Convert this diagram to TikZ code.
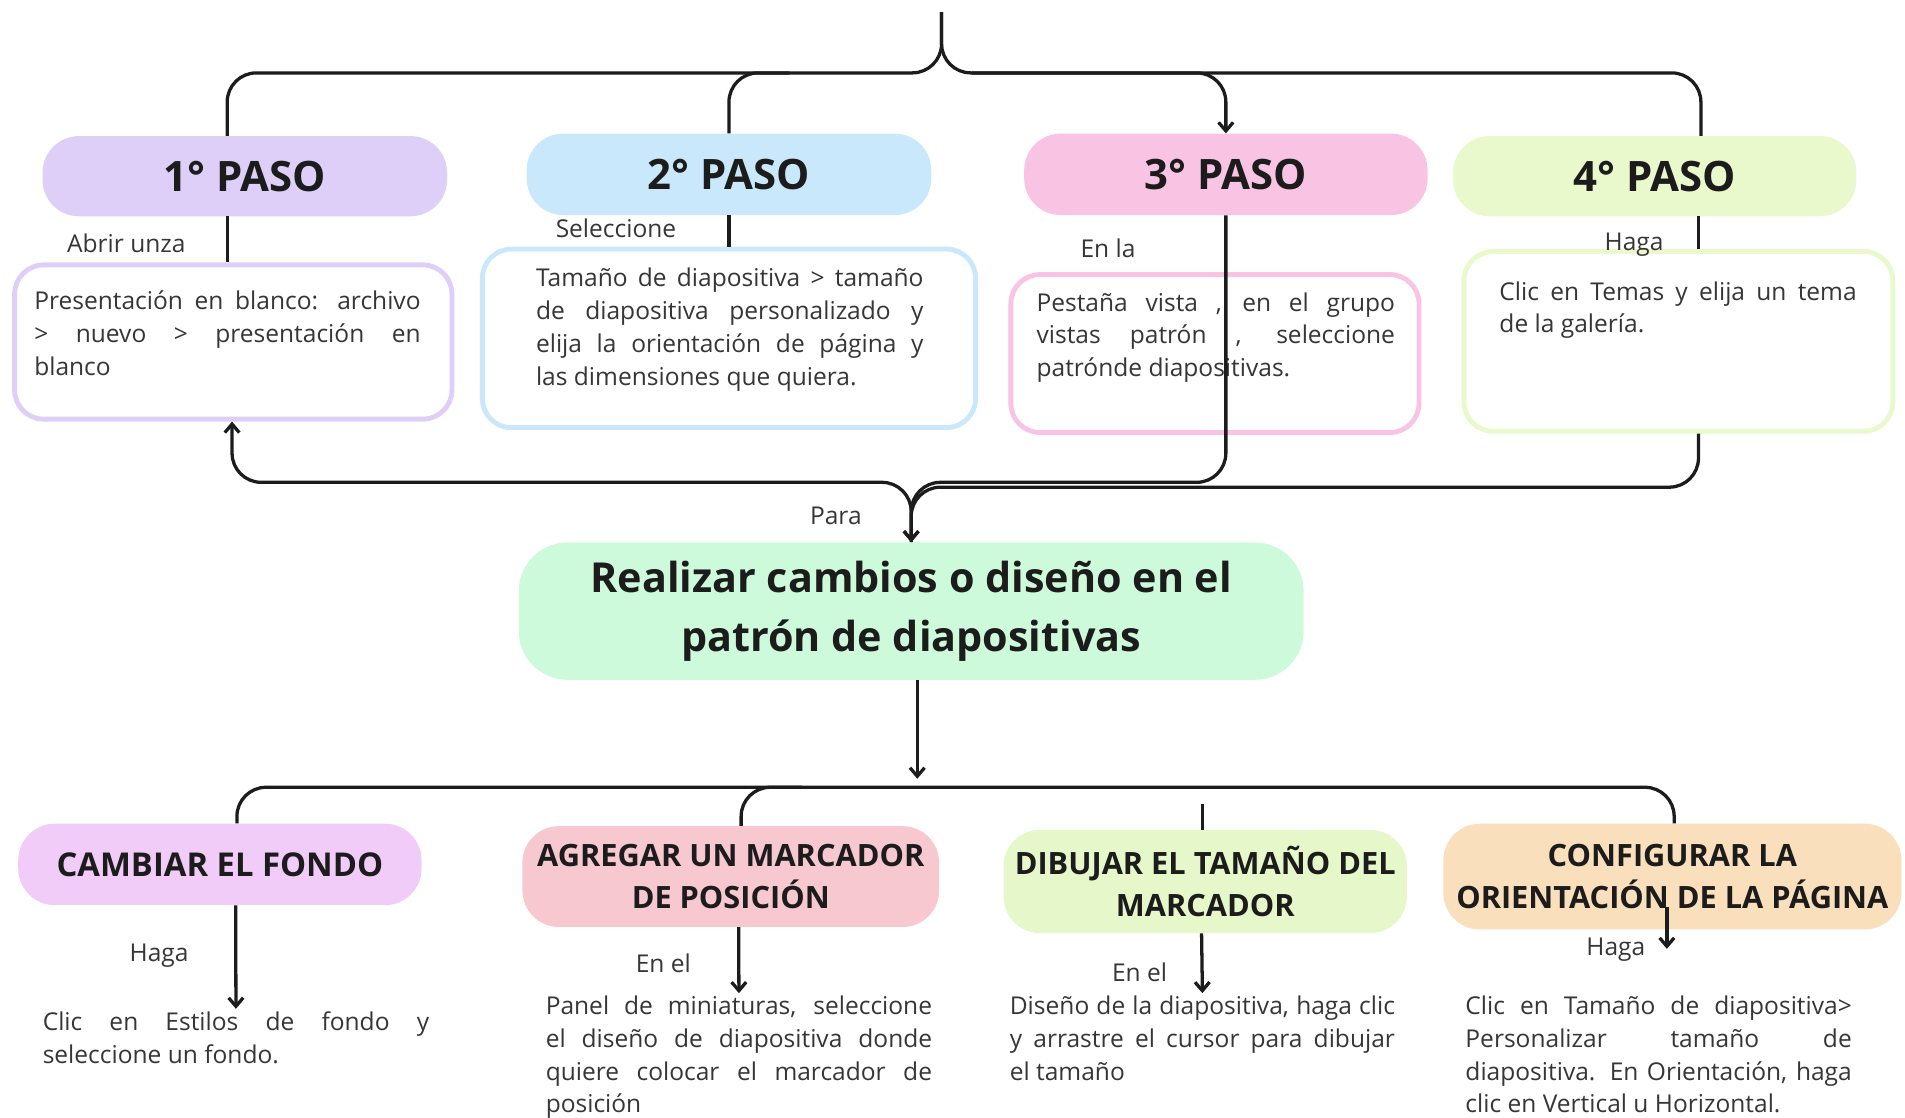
\documentclass[tikz,border=0pt]{standalone}
\usepackage{fontspec}
\setmainfont{Open Sans}
\usetikzlibrary{arrows.meta}
\definecolor{pA}{HTML}{DDCFF8}
\definecolor{pB}{HTML}{C9E8FB}
\definecolor{pC}{HTML}{F9C3E3}
\definecolor{pD}{HTML}{E9F9CC}
\definecolor{mn}{HTML}{CDFADB}
\definecolor{qA}{HTML}{F2CCF8}
\definecolor{qB}{HTML}{F8C8D1}
\definecolor{qC}{HTML}{E6F8CA}
\definecolor{qD}{HTML}{FADFBC}
\definecolor{bodytext}{HTML}{363636}
\definecolor{ink}{HTML}{1C1C1C}
\newcommand{\jl}[1]{\makebox[\linewidth][s]{#1}\par}
\newcommand{\bodyfont}{\fontsize{20.2}{27}\selectfont\parindent=0pt\relax}
\begin{document}
\begin{tikzpicture}[x=1pt,y=-1pt,
  conn/.style={line width=2.7pt, draw=ink, rounded corners=24pt},
  arr/.style={-{Straight Barb[length=7pt,width=12pt]}},
  pill/.style={rounded corners=30pt, inner sep=0pt, text=ink, align=center},
  paso/.style={pill, minimum height=66pt, minimum width=333pt, font=\fontsize{34.5}{40}\selectfont\bfseries},
  accion/.style={pill, font=\fontsize{25.3}{34}\selectfont\bfseries},
  desc/.style={rounded corners=24pt, line width=4pt, fill=white, inner sep=0pt},
  lbl/.style={inner sep=0pt, text=bodytext, font=\fontsize{20.2}{24}\selectfont},
  txt/.style={inner sep=0pt, anchor=base west, text=bodytext, font=\bodyfont}]
\useasboundingbox (0,0) rectangle (1568,920);

% ---- step headers
\node[paso, fill=pA] (s1) at (201.5,145) {1° PASO};
\node[paso, fill=pB, minimum height=67pt] (s2) at (600,143.5) {2° PASO};
\node[paso, fill=pC, minimum height=67pt, minimum width=332pt] (s3) at (1009,143.5) {3° PASO};
\node[paso, fill=pD, minimum width=332pt] (s4) at (1362,145) {4° PASO};

% ---- description boxes
\node[desc, draw=pA, minimum width=360pt, minimum height=127pt] (d1) at (192,281.5) {};
\node[desc, draw=pB, minimum width=406pt, minimum height=147pt] (d2) at (600,278.5) {};
\node[desc, draw=pC, minimum width=336pt, minimum height=130pt] (d3) at (1000,291) {};
\node[desc, draw=pD, minimum width=353pt, minimum height=148pt] (d4) at (1381.5,281) {};

\node[txt] (t1) at (28,255) {\parbox[t]{318pt}{\bodyfont
  \jl{Presentación en blanco: archivo}\jl{> nuevo > presentación en}blanco}};
\node[txt] (t2) at (441,236) {\parbox[t]{319pt}{\bodyfont
  \jl{Tamaño de diapositiva > tamaño}\jl{de diapositiva personalizado y}\jl{elija la orientación de página y}las dimensiones que quiera.}};
\node[txt] (t3) at (853,256) {\parbox[t]{295pt}{\bodyfont
  \jl{Pestaña vista , en el grupo}\jl{vistas patrón , seleccione}patrónde diapositivas.}};
\node[txt] (t4) at (1234,247) {\parbox[t]{294pt}{\bodyfont
  \jl{Clic en Temas y elija un tema}de la galería.}};

% ---- labels (upper)
\node[lbl] (l1) at (104,200) {Abrir unza};
\node[lbl] (l2) at (507,188) {Seleccione};
\node[lbl] (l3) at (912,204) {En la};
\node[lbl] (l4) at (1345,201) {Haga};
\node[lbl] (l5) at (688,425) {Para};

% ---- main node
\node[pill, fill=mn, rounded corners=40pt, minimum width=646pt, minimum height=113pt,
  font=\fontsize{34}{48}\selectfont\bfseries] (m) at (750,503)
  {Realizar cambios o diseño en el\\patrón de diapositivas};

% ---- lower action boxes
\node[accion, fill=qA, minimum width=332pt, minimum height=67pt, font=\fontsize{27}{34}\selectfont\bfseries] (b1) at (181,711.5) {CAMBIAR EL FONDO};
\node[accion, fill=qB, minimum width=343pt, minimum height=83pt] (b2) at (601.5,721.5) {AGREGAR UN MARCADOR\\DE POSICIÓN};
\node[accion, fill=qC, minimum width=332pt, minimum height=85pt] (b3) at (992,725.5) {DIBUJAR EL TAMAÑO DEL\\MARCADOR};
\node[accion, fill=qD, minimum width=377pt, minimum height=87pt] (b4) at (1376.5,721.5) {CONFIGURAR LA\\ORIENTACIÓN DE LA PÁGINA};

% ---- lower texts
\node[txt] (e1) at (35,848) {\parbox[t]{318pt}{\bodyfont
  \jl{Clic en Estilos de fondo y}seleccione un fondo.}};
\node[txt] (e2) at (449,835) {\parbox[t]{318pt}{\bodyfont
  \jl{Panel de miniaturas, seleccione}\jl{el diseño de diapositiva donde}\jl{quiere colocar el marcador de}posición}};
\node[txt] (e3) at (831,835) {\parbox[t]{317pt}{\bodyfont
  \jl{Diseño de la diapositiva, haga clic}\jl{y arrastre el cursor para dibujar}el tamaño}};
\node[txt] (e4) at (1206,835) {\parbox[t]{318pt}{\bodyfont
  \jl{Clic en Tamaño de diapositiva>}\jl{Personalizar tamaño de}\jl{diapositiva. En Orientación, haga}clic en Vertical u Horizontal.}};

% ---- labels (lower)
\node[lbl] (l6) at (131,787) {Haga};
\node[lbl] (l7) at (546,793) {En el};
\node[lbl] (l8) at (938,800) {En el};
\node[lbl] (l9) at (1330,782) {Haga};

% ---- upper connectors
\coordinate (top) at (775,10);
\draw[conn] (top) -- (775,60) -- (187,60) -- ([xshift=-14.5pt]s1.north);
\draw[conn] (top) -- (775,60) -- (1400,60) -- ([xshift=38pt]s4.north);
\draw[conn] (650,60) -- (600,60) -- (s2.north);
\draw[conn,arr] (800,60) -- (1009,60) -- (s3.north);
\draw[conn] ([xshift=-14.5pt]s1.south) -- ([xshift=-5pt]d1.north);
\draw[conn] (s2.south) -- (d2.north);
\draw[conn] ([xshift=36pt]s4.south) -- ([xshift=16.5pt]d4.north);
\draw[conn,arr] (s3.south) -- (1009,397) -- (750,397) -- (m.north);
\draw[conn,arr] ([xshift=16.5pt]d4.south) -- (1398,401) -- (750,401) -- (m.north);
\draw[conn,arr] (m.north) -- (750,397) -- (191,397) -- ([xshift=-1pt]d1.south);

% ---- lower connectors
\coordinate (hub) at (755,641);
\draw[conn,arr] ([xshift=5pt]m.south) -- (hub);
\draw[conn] ([xshift=14pt]b1.north) -- (195,648) -- (1378,648) -- ([xshift=1.5pt]b4.north);
\draw[conn] (660,648) -- (610,648) -- ([xshift=8.5pt]b2.north);
\coordinate (stub) at (990,662);
\draw[conn, rounded corners=0pt] (stub) -- (b3.north -| stub);
\draw[conn,arr] ([xshift=13pt]b1.south) -- ([yshift=2pt]e1.north);
\draw[conn,arr] ([xshift=6.5pt]b2.south) -- ([yshift=2pt]e2.north);
\draw[conn,arr] ([xshift=-3pt]b3.south) -- ([yshift=2pt]e3.north);
\coordinate (h4) at (1372,781);
\draw[conn,arr] ([xshift=-4.5pt,yshift=19pt]b4.south) -- (h4);
\end{tikzpicture}
\end{document}
